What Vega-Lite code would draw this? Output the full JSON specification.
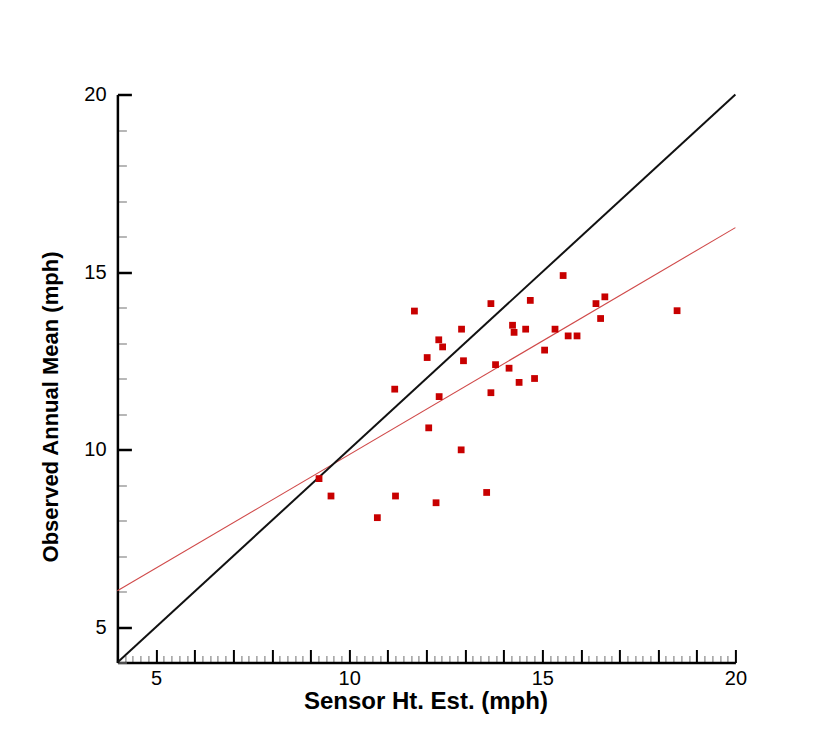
{
  "$schema": "https://vega.github.io/schema/vega-lite/v6.json",
  "width": 618,
  "height": 568,
  "autosize": "none",
  "padding": {"left": 117.4, "top": 94.5, "right": 85.6, "bottom": 75.5},
  "background": "white",
  "config": {"view": {"stroke": null}},
  "encoding": {
    "x": {
      "field": "x", "type": "quantitative",
      "scale": {"domain": [4, 20], "nice": false, "zero": false},
      "axis": {
        "title": "Sensor Ht. Est. (mph)",
        "grid": false,
        "format": "~g",
        "values": [4, 4.2, 4.4, 4.6, 4.8, 5, 5.2, 5.4, 5.6, 5.8, 6, 6.2, 6.4, 6.6, 6.8, 7, 7.2, 7.4, 7.6, 7.8, 8, 8.2, 8.4, 8.6, 8.8, 9, 9.2, 9.4, 9.6, 9.8, 10, 10.2, 10.4, 10.6, 10.8, 11, 11.2, 11.4, 11.6, 11.8, 12, 12.2, 12.4, 12.6, 12.8, 13, 13.2, 13.4, 13.6, 13.8, 14, 14.2, 14.4, 14.6, 14.8, 15, 15.2, 15.4, 15.6, 15.8, 16, 16.2, 16.4, 16.6, 16.8, 17, 17.2, 17.4, 17.6, 17.8, 18, 18.2, 18.4, 18.6, 18.8, 19, 19.2, 19.4, 19.6, 19.8, 20],
        "labelExpr": "datum.value % 5 === 0 ? datum.label : ''",
        "labelOverlap": false,
        "labelFlush": false,
        "labelFont": "Liberation Sans",
        "labelFontSize": 20,
        "labelColor": "#000000",
        "labelBaseline": "alphabetic",
        "labelPadding": 34.5,
        "tickSize": {"condition": {"test": "abs(datum.value - round(datum.value)) < 0.01", "value": -13}, "value": -7},
        "tickWidth": {"condition": {"test": "abs(datum.value - round(datum.value)) < 0.01", "value": 2}, "value": 1.2},
        "tickColor": {"condition": {"test": "abs(datum.value - round(datum.value)) < 0.01", "value": "#000000"}, "value": "#888888"},
        "domainColor": "#000000",
        "domainWidth": 2.5,
        "titleFont": "Liberation Sans",
        "titleFontSize": 24,
        "titleFontWeight": "bold",
        "titleColor": "#000000",
        "titleBaseline": "alphabetic",
        "titleAlign": "center",
        "titleX": 308,
        "titleY": 46
      }
    },
    "y": {
      "field": "y", "type": "quantitative",
      "scale": {"domain": [4, 20], "nice": false, "zero": false},
      "axis": {
        "title": "Observed Annual Mean (mph)",
        "grid": false,
        "format": "~g",
        "values": [4, 5, 6, 7, 8, 9, 10, 11, 12, 13, 14, 15, 16, 17, 18, 19, 20],
        "labelExpr": "datum.value % 5 === 0 ? datum.label : ''",
        "labelOverlap": false,
        "labelFlush": false,
        "labelFont": "Liberation Sans",
        "labelFontSize": 20,
        "labelColor": "#000000",
        "labelBaseline": "middle",
        "labelAlign": "right",
        "labelPadding": 25.3,
        "tickSize": {"condition": {"test": "datum.value % 5 === 0", "value": -14}, "value": -9},
        "tickWidth": {"condition": {"test": "datum.value % 5 === 0", "value": 2.5}, "value": 1.2},
        "tickColor": {"condition": {"test": "datum.value % 5 === 0", "value": "#000000"}, "value": "#888888"},
        "domainColor": "#000000",
        "domainWidth": 2.5,
        "titleFont": "Liberation Sans",
        "titleFontSize": 22,
        "titleFontWeight": "bold",
        "titleColor": "#000000",
        "titleAngle": 270,
        "titleBaseline": "alphabetic",
        "titleAlign": "center",
        "titleX": -59.7,
        "titleY": 312
      }
    }
  },
  "layer": [
    {
      "data": {"values": [{"x": 4, "y": 6.02}, {"x": 20, "y": 16.25}]},
      "mark": {"type": "line", "color": "#d04a4a", "strokeWidth": 1.1}
    },
    {
      "data": {"values": [{"x": 4, "y": 4}, {"x": 20, "y": 20}]},
      "mark": {"type": "line", "color": "#111111", "strokeWidth": 2}
    },
    {
      "data": {"values": [
        {"x": 9.22, "y": 9.18}, {"x": 9.53, "y": 8.69}, {"x": 10.73, "y": 8.08}, {"x": 11.18, "y": 11.70},
        {"x": 11.20, "y": 8.69}, {"x": 11.69, "y": 13.90}, {"x": 12.06, "y": 10.61}, {"x": 12.02, "y": 12.59},
        {"x": 12.25, "y": 8.50}, {"x": 12.32, "y": 13.09}, {"x": 12.42, "y": 12.89}, {"x": 12.33, "y": 11.49},
        {"x": 12.91, "y": 13.39}, {"x": 12.90, "y": 9.99}, {"x": 12.96, "y": 12.50}, {"x": 13.56, "y": 8.79},
        {"x": 13.67, "y": 14.11}, {"x": 13.67, "y": 11.60}, {"x": 13.79, "y": 12.39}, {"x": 14.14, "y": 12.29},
        {"x": 14.23, "y": 13.50}, {"x": 14.27, "y": 13.30}, {"x": 14.40, "y": 11.89}, {"x": 14.57, "y": 13.39},
        {"x": 14.69, "y": 14.20}, {"x": 14.80, "y": 12.00}, {"x": 15.06, "y": 12.80}, {"x": 15.33, "y": 13.39},
        {"x": 15.54, "y": 14.90}, {"x": 15.67, "y": 13.20}, {"x": 15.90, "y": 13.20}, {"x": 16.39, "y": 14.11},
        {"x": 16.51, "y": 13.69}, {"x": 16.62, "y": 14.30}, {"x": 18.49, "y": 13.91}
      ]},
      "mark": {"type": "point", "shape": "square", "filled": true, "size": 46, "color": "#c80000", "opacity": 1}
    }
  ]
}
